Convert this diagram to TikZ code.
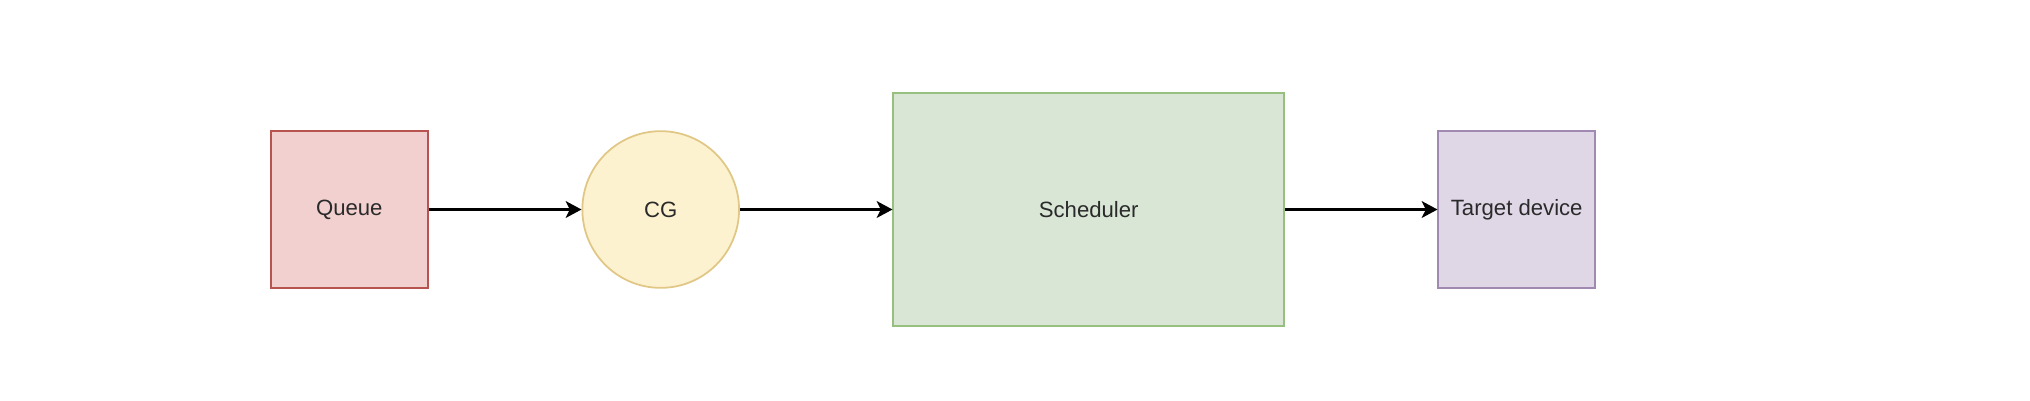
\documentclass[tikz,border=0pt]{standalone}
\usepackage{fontspec}
\setmainfont{Liberation Sans}
\usetikzlibrary{arrows.meta}
\definecolor{queuefill}{HTML}{F2D0CF}
\definecolor{queueline}{HTML}{B85450}
\definecolor{cgfill}{HTML}{FDF2D0}
\definecolor{cgline}{HTML}{E0C785}
\definecolor{schedfill}{HTML}{D9E6D6}
\definecolor{schedline}{HTML}{97BF7F}
\definecolor{devfill}{HTML}{DFD6E6}
\definecolor{devline}{HTML}{A189B1}
\definecolor{txt}{HTML}{2A2A2A}

\begin{document}
\begin{tikzpicture}[>={Stealth[length=4.5pt,width=4.8pt,inset=1.2pt]},
box/.style={draw,line width=0.5pt,inner sep=0pt,text=txt,font=\fontsize{6.3}{7.6}\selectfont},
flow/.style={->,line width=0.6pt,color=black}]
\useasboundingbox (0,0) rectangle (20.3,4);
\node[box,fill=queuefill,draw=queueline,minimum size=1.567cm](queue) at (3.493,1.905){Queue};
\node[box,circle,fill=cgfill,draw=cgline,minimum size=1.567cm](cg) at (6.607,1.905){CG};
\node[box,fill=schedfill,draw=schedline,minimum width=3.907cm,minimum height=2.333cm](sched) at (10.887,1.905){Scheduler};
\node[box,fill=devfill,draw=devline,minimum size=1.567cm](dev) at (15.167,1.905){Target device};
\draw[flow](queue)--(cg);
\draw[flow](cg)--(sched);
\draw[flow](sched)--(dev);
\end{tikzpicture}
\end{document}
